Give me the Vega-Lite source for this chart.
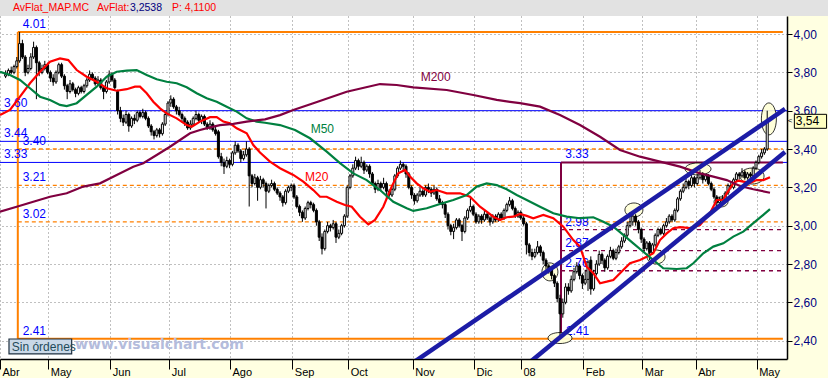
{
"$schema": "https://vega.github.io/schema/vega-lite/v6.json",
"width": 787, "height": 343,
"autosize": {"type": "none"},
"padding": {"left": 0, "top": 16, "right": 41, "bottom": 19},
"background": "#FFFFE1",
"config": {"view": {"fill": "white", "stroke": null}, "text": {"font": "Liberation Sans"}, "axis": {"labelFont": "Liberation Sans"}, "scale": {"continuousPadding": 0}},
"datasets": {
"bars": [
{"d":0,"o":3.78,"h":3.81,"l":3.77,"c":3.79},{"d":1,"o":3.79,"h":3.82,"l":3.78,"c":3.81},{"d":2,"o":3.81,"h":3.83,"l":3.79,"c":3.80},{"d":3,"o":3.80,"h":3.84,"l":3.79,"c":3.83},{"d":4,"o":3.83,"h":3.88,"l":3.82,"c":3.86},{"d":5,"o":3.86,"h":4.01,"l":3.85,"c":3.95},{"d":6,"o":3.95,"h":3.97,"l":3.87,"c":3.88},{"d":7,"o":3.88,"h":3.89,"l":3.78,"c":3.80},{"d":8,"o":3.80,"h":3.84,"l":3.79,"c":3.82},{"d":9,"o":3.82,"h":3.90,"l":3.81,"c":3.88},
{"d":10,"o":3.88,"h":3.96,"l":3.87,"c":3.93},{"d":11,"o":3.93,"h":3.94,"l":3.66,"c":3.85},{"d":12,"o":3.85,"h":3.86,"l":3.78,"c":3.80},{"d":13,"o":3.80,"h":3.84,"l":3.79,"c":3.82},{"d":14,"o":3.82,"h":3.86,"l":3.81,"c":3.84},{"d":15,"o":3.84,"h":3.85,"l":3.79,"c":3.80},{"d":16,"o":3.80,"h":3.81,"l":3.75,"c":3.77},{"d":17,"o":3.77,"h":3.79,"l":3.73,"c":3.75},{"d":18,"o":3.75,"h":3.81,"l":3.74,"c":3.80},{"d":19,"o":3.80,"h":3.85,"l":3.79,"c":3.84},
{"d":20,"o":3.84,"h":3.85,"l":3.77,"c":3.78},{"d":21,"o":3.78,"h":3.79,"l":3.71,"c":3.73},{"d":22,"o":3.73,"h":3.74,"l":3.66,"c":3.70},{"d":23,"o":3.70,"h":3.76,"l":3.69,"c":3.74},{"d":24,"o":3.74,"h":3.75,"l":3.70,"c":3.71},{"d":25,"o":3.71,"h":3.72,"l":3.67,"c":3.69},{"d":26,"o":3.69,"h":3.73,"l":3.68,"c":3.72},{"d":27,"o":3.72,"h":3.73,"l":3.69,"c":3.70},{"d":28,"o":3.70,"h":3.74,"l":3.69,"c":3.73},{"d":29,"o":3.73,"h":3.77,"l":3.72,"c":3.76},
{"d":30,"o":3.76,"h":3.81,"l":3.75,"c":3.79},{"d":31,"o":3.79,"h":3.80,"l":3.76,"c":3.77},{"d":32,"o":3.77,"h":3.78,"l":3.73,"c":3.74},{"d":33,"o":3.74,"h":3.78,"l":3.73,"c":3.76},{"d":34,"o":3.76,"h":3.77,"l":3.71,"c":3.72},{"d":35,"o":3.72,"h":3.73,"l":3.66,"c":3.70},{"d":36,"o":3.70,"h":3.76,"l":3.69,"c":3.75},{"d":37,"o":3.75,"h":3.81,"l":3.74,"c":3.79},{"d":38,"o":3.79,"h":3.80,"l":3.75,"c":3.76},{"d":39,"o":3.76,"h":3.77,"l":3.71,"c":3.72},
{"d":40,"o":3.70,"h":3.71,"l":3.58,"c":3.60},{"d":41,"o":3.60,"h":3.62,"l":3.54,"c":3.56},{"d":42,"o":3.56,"h":3.58,"l":3.52,"c":3.54},{"d":43,"o":3.54,"h":3.60,"l":3.53,"c":3.58},{"d":44,"o":3.58,"h":3.59,"l":3.49,"c":3.52},{"d":45,"o":3.52,"h":3.57,"l":3.51,"c":3.56},{"d":46,"o":3.56,"h":3.58,"l":3.53,"c":3.55},{"d":47,"o":3.55,"h":3.60,"l":3.54,"c":3.59},{"d":48,"o":3.59,"h":3.60,"l":3.56,"c":3.57},{"d":49,"o":3.57,"h":3.61,"l":3.56,"c":3.59},
{"d":50,"o":3.59,"h":3.60,"l":3.55,"c":3.56},{"d":51,"o":3.56,"h":3.57,"l":3.51,"c":3.52},{"d":52,"o":3.52,"h":3.53,"l":3.47,"c":3.49},{"d":53,"o":3.49,"h":3.50,"l":3.45,"c":3.47},{"d":54,"o":3.47,"h":3.51,"l":3.46,"c":3.50},{"d":55,"o":3.50,"h":3.51,"l":3.46,"c":3.48},{"d":56,"o":3.48,"h":3.54,"l":3.47,"c":3.53},{"d":57,"o":3.53,"h":3.59,"l":3.52,"c":3.58},{"d":58,"o":3.58,"h":3.65,"l":3.57,"c":3.64},{"d":59,"o":3.64,"h":3.68,"l":3.62,"c":3.66},
{"d":60,"o":3.66,"h":3.67,"l":3.61,"c":3.62},{"d":61,"o":3.62,"h":3.63,"l":3.58,"c":3.60},{"d":62,"o":3.60,"h":3.62,"l":3.57,"c":3.58},{"d":63,"o":3.58,"h":3.59,"l":3.54,"c":3.56},{"d":64,"o":3.56,"h":3.57,"l":3.52,"c":3.54},{"d":65,"o":3.54,"h":3.55,"l":3.50,"c":3.51},{"d":66,"o":3.51,"h":3.55,"l":3.50,"c":3.53},{"d":67,"o":3.53,"h":3.57,"l":3.52,"c":3.56},{"d":68,"o":3.56,"h":3.60,"l":3.55,"c":3.58},{"d":69,"o":3.58,"h":3.59,"l":3.54,"c":3.55},
{"d":70,"o":3.55,"h":3.58,"l":3.53,"c":3.57},{"d":71,"o":3.57,"h":3.58,"l":3.52,"c":3.53},{"d":72,"o":3.53,"h":3.54,"l":3.50,"c":3.51},{"d":73,"o":3.51,"h":3.55,"l":3.50,"c":3.53},{"d":74,"o":3.53,"h":3.54,"l":3.49,"c":3.50},{"d":75,"o":3.50,"h":3.52,"l":3.47,"c":3.48},{"d":76,"o":3.49,"h":3.50,"l":3.35,"c":3.36},{"d":77,"o":3.36,"h":3.38,"l":3.31,"c":3.33},{"d":78,"o":3.33,"h":3.35,"l":3.27,"c":3.31},{"d":79,"o":3.31,"h":3.36,"l":3.30,"c":3.34},
{"d":80,"o":3.34,"h":3.35,"l":3.30,"c":3.32},{"d":81,"o":3.32,"h":3.39,"l":3.31,"c":3.38},{"d":82,"o":3.38,"h":3.44,"l":3.37,"c":3.42},{"d":83,"o":3.42,"h":3.43,"l":3.38,"c":3.39},{"d":84,"o":3.39,"h":3.40,"l":3.33,"c":3.35},{"d":85,"o":3.35,"h":3.39,"l":3.34,"c":3.37},{"d":86,"o":3.37,"h":3.44,"l":3.36,"c":3.40},{"d":87,"o":3.40,"h":3.41,"l":3.10,"c":3.26},{"d":88,"o":3.26,"h":3.27,"l":3.20,"c":3.22},{"d":89,"o":3.22,"h":3.27,"l":3.21,"c":3.25},
{"d":90,"o":3.25,"h":3.26,"l":3.13,"c":3.20},{"d":91,"o":3.20,"h":3.26,"l":3.19,"c":3.24},{"d":92,"o":3.24,"h":3.25,"l":3.20,"c":3.22},{"d":93,"o":3.22,"h":3.23,"l":3.09,"c":3.18},{"d":94,"o":3.18,"h":3.22,"l":3.17,"c":3.21},{"d":95,"o":3.21,"h":3.24,"l":3.20,"c":3.22},{"d":96,"o":3.22,"h":3.23,"l":3.18,"c":3.19},{"d":97,"o":3.19,"h":3.20,"l":3.16,"c":3.17},{"d":98,"o":3.17,"h":3.18,"l":3.13,"c":3.15},{"d":99,"o":3.15,"h":3.16,"l":3.10,"c":3.12},
{"d":100,"o":3.12,"h":3.19,"l":3.11,"c":3.18},{"d":101,"o":3.18,"h":3.21,"l":3.17,"c":3.20},{"d":102,"o":3.20,"h":3.22,"l":3.18,"c":3.21},{"d":103,"o":3.21,"h":3.22,"l":3.14,"c":3.15},{"d":104,"o":3.15,"h":3.16,"l":3.09,"c":3.10},{"d":105,"o":3.10,"h":3.11,"l":3.05,"c":3.07},{"d":106,"o":3.07,"h":3.08,"l":3.02,"c":3.04},{"d":107,"o":3.04,"h":3.10,"l":3.03,"c":3.09},{"d":108,"o":3.09,"h":3.13,"l":3.08,"c":3.12},{"d":109,"o":3.12,"h":3.13,"l":3.09,"c":3.11},
{"d":110,"o":3.11,"h":3.12,"l":3.07,"c":3.08},{"d":111,"o":3.08,"h":3.09,"l":3.00,"c":3.02},{"d":112,"o":3.02,"h":3.03,"l":2.92,"c":2.94},{"d":113,"o":2.94,"h":2.96,"l":2.85,"c":2.88},{"d":114,"o":2.88,"h":2.98,"l":2.87,"c":2.97},{"d":115,"o":2.97,"h":3.02,"l":2.96,"c":3.00},{"d":116,"o":3.00,"h":3.01,"l":2.97,"c":2.99},{"d":117,"o":2.99,"h":3.03,"l":2.98,"c":3.01},{"d":118,"o":3.01,"h":3.02,"l":2.91,"c":2.94},{"d":119,"o":2.94,"h":2.98,"l":2.93,"c":2.96},
{"d":120,"o":2.96,"h":3.01,"l":2.95,"c":3.00},{"d":121,"o":3.00,"h":3.06,"l":2.99,"c":3.05},{"d":122,"o":3.05,"h":3.21,"l":3.04,"c":3.20},{"d":123,"o":3.20,"h":3.27,"l":3.19,"c":3.26},{"d":124,"o":3.26,"h":3.32,"l":3.25,"c":3.30},{"d":125,"o":3.30,"h":3.36,"l":3.29,"c":3.34},{"d":126,"o":3.34,"h":3.35,"l":3.29,"c":3.31},{"d":127,"o":3.31,"h":3.36,"l":3.30,"c":3.33},{"d":128,"o":3.33,"h":3.34,"l":3.27,"c":3.29},{"d":129,"o":3.29,"h":3.32,"l":3.28,"c":3.31},
{"d":130,"o":3.31,"h":3.32,"l":3.25,"c":3.27},{"d":131,"o":3.27,"h":3.28,"l":3.21,"c":3.22},{"d":132,"o":3.22,"h":3.23,"l":3.17,"c":3.19},{"d":133,"o":3.19,"h":3.24,"l":3.18,"c":3.22},{"d":134,"o":3.22,"h":3.23,"l":3.18,"c":3.20},{"d":135,"o":3.20,"h":3.25,"l":3.19,"c":3.22},{"d":136,"o":3.22,"h":3.23,"l":3.14,"c":3.18},{"d":137,"o":3.18,"h":3.19,"l":3.15,"c":3.16},{"d":138,"o":3.16,"h":3.20,"l":3.15,"c":3.19},{"d":139,"o":3.19,"h":3.27,"l":3.18,"c":3.26},
{"d":140,"o":3.26,"h":3.31,"l":3.25,"c":3.30},{"d":141,"o":3.30,"h":3.34,"l":3.29,"c":3.32},{"d":142,"o":3.32,"h":3.33,"l":3.28,"c":3.31},{"d":143,"o":3.31,"h":3.32,"l":3.25,"c":3.27},{"d":144,"o":3.27,"h":3.28,"l":3.19,"c":3.20},{"d":145,"o":3.20,"h":3.21,"l":3.14,"c":3.16},{"d":146,"o":3.16,"h":3.17,"l":3.11,"c":3.13},{"d":147,"o":3.13,"h":3.17,"l":3.12,"c":3.16},{"d":148,"o":3.16,"h":3.20,"l":3.15,"c":3.18},{"d":149,"o":3.18,"h":3.19,"l":3.15,"c":3.16},
{"d":150,"o":3.16,"h":3.21,"l":3.15,"c":3.20},{"d":151,"o":3.20,"h":3.22,"l":3.17,"c":3.19},{"d":152,"o":3.19,"h":3.20,"l":3.15,"c":3.17},{"d":153,"o":3.17,"h":3.21,"l":3.16,"c":3.19},{"d":154,"o":3.19,"h":3.20,"l":3.13,"c":3.14},{"d":155,"o":3.14,"h":3.16,"l":3.11,"c":3.12},{"d":156,"o":3.12,"h":3.13,"l":3.09,"c":3.11},{"d":157,"o":3.11,"h":3.12,"l":3.04,"c":3.06},{"d":158,"o":3.06,"h":3.07,"l":2.98,"c":3.00},{"d":159,"o":3.00,"h":3.01,"l":2.95,"c":2.97},
{"d":160,"o":2.97,"h":3.01,"l":2.93,"c":2.99},{"d":161,"o":2.99,"h":3.04,"l":2.98,"c":3.03},{"d":162,"o":3.03,"h":3.04,"l":2.99,"c":3.00},{"d":163,"o":3.00,"h":3.01,"l":2.92,"c":2.97},{"d":164,"o":2.97,"h":3.05,"l":2.96,"c":3.04},{"d":165,"o":3.04,"h":3.09,"l":3.03,"c":3.08},{"d":166,"o":3.08,"h":3.15,"l":3.07,"c":3.10},{"d":167,"o":3.10,"h":3.11,"l":3.05,"c":3.06},{"d":168,"o":3.06,"h":3.07,"l":3.01,"c":3.02},{"d":169,"o":3.02,"h":3.06,"l":3.01,"c":3.05},
{"d":170,"o":3.05,"h":3.06,"l":3.01,"c":3.03},{"d":171,"o":3.03,"h":3.08,"l":3.02,"c":3.06},{"d":172,"o":3.06,"h":3.07,"l":3.03,"c":3.04},{"d":173,"o":3.04,"h":3.05,"l":3.00,"c":3.02},{"d":174,"o":3.02,"h":3.06,"l":3.01,"c":3.05},{"d":175,"o":3.05,"h":3.06,"l":3.02,"c":3.03},{"d":176,"o":3.03,"h":3.07,"l":3.02,"c":3.06},{"d":177,"o":3.06,"h":3.07,"l":3.03,"c":3.04},{"d":178,"o":3.04,"h":3.09,"l":3.03,"c":3.08},{"d":179,"o":3.08,"h":3.12,"l":3.07,"c":3.11},
{"d":180,"o":3.11,"h":3.15,"l":3.10,"c":3.13},{"d":181,"o":3.13,"h":3.14,"l":3.08,"c":3.09},{"d":182,"o":3.09,"h":3.10,"l":3.04,"c":3.05},{"d":183,"o":3.05,"h":3.08,"l":3.04,"c":3.07},{"d":184,"o":3.07,"h":3.08,"l":3.03,"c":3.04},{"d":185,"o":3.04,"h":3.05,"l":3.00,"c":3.01},{"d":186,"o":3.01,"h":3.02,"l":2.85,"c":2.90},{"d":187,"o":2.90,"h":2.91,"l":2.84,"c":2.86},{"d":188,"o":2.86,"h":2.88,"l":2.82,"c":2.84},{"d":189,"o":2.84,"h":2.88,"l":2.83,"c":2.86},
{"d":190,"o":2.86,"h":2.92,"l":2.85,"c":2.89},{"d":191,"o":2.89,"h":2.90,"l":2.84,"c":2.86},{"d":192,"o":2.86,"h":2.87,"l":2.80,"c":2.82},{"d":193,"o":2.82,"h":2.83,"l":2.77,"c":2.79},{"d":194,"o":2.79,"h":2.80,"l":2.75,"c":2.77},{"d":195,"o":2.77,"h":2.78,"l":2.72,"c":2.74},{"d":196,"o":2.74,"h":2.75,"l":2.68,"c":2.70},{"d":197,"o":2.70,"h":2.71,"l":2.60,"c":2.62},{"d":198,"o":2.62,"h":2.64,"l":2.41,"c":2.54},{"d":199,"o":2.54,"h":2.62,"l":2.52,"c":2.60},
{"d":200,"o":2.60,"h":2.70,"l":2.59,"c":2.68},{"d":201,"o":2.68,"h":2.70,"l":2.64,"c":2.66},{"d":202,"o":2.66,"h":2.74,"l":2.65,"c":2.72},{"d":203,"o":2.72,"h":2.78,"l":2.71,"c":2.76},{"d":204,"o":2.76,"h":2.81,"l":2.75,"c":2.79},{"d":205,"o":2.79,"h":2.80,"l":2.72,"c":2.74},{"d":206,"o":2.74,"h":2.75,"l":2.67,"c":2.70},{"d":207,"o":2.70,"h":2.77,"l":2.69,"c":2.72},{"d":208,"o":2.72,"h":2.82,"l":2.66,"c":2.81},{"d":209,"o":2.82,"h":2.84,"l":2.64,"c":2.67},
{"d":210,"o":2.67,"h":2.77,"l":2.66,"c":2.75},{"d":211,"o":2.75,"h":2.82,"l":2.74,"c":2.80},{"d":212,"o":2.80,"h":2.87,"l":2.79,"c":2.85},{"d":213,"o":2.85,"h":2.86,"l":2.80,"c":2.82},{"d":214,"o":2.82,"h":2.83,"l":2.76,"c":2.78},{"d":215,"o":2.78,"h":2.85,"l":2.77,"c":2.84},{"d":216,"o":2.84,"h":2.89,"l":2.83,"c":2.87},{"d":217,"o":2.87,"h":2.88,"l":2.82,"c":2.83},{"d":218,"o":2.83,"h":2.88,"l":2.82,"c":2.86},{"d":219,"o":2.86,"h":2.90,"l":2.85,"c":2.89},
{"d":220,"o":2.89,"h":2.94,"l":2.88,"c":2.92},{"d":221,"o":2.92,"h":2.96,"l":2.91,"c":2.95},{"d":222,"o":2.95,"h":3.02,"l":2.94,"c":3.00},{"d":223,"o":3.00,"h":3.07,"l":2.99,"c":3.02},{"d":224,"o":3.02,"h":3.06,"l":3.00,"c":3.05},{"d":225,"o":3.05,"h":3.06,"l":3.00,"c":3.02},{"d":226,"o":3.02,"h":3.03,"l":2.96,"c":2.98},{"d":227,"o":2.98,"h":2.99,"l":2.91,"c":2.93},{"d":228,"o":2.93,"h":2.94,"l":2.86,"c":2.88},{"d":229,"o":2.88,"h":2.92,"l":2.87,"c":2.91},
{"d":230,"o":2.91,"h":2.92,"l":2.82,"c":2.86},{"d":231,"o":2.86,"h":2.91,"l":2.85,"c":2.90},{"d":232,"o":2.90,"h":2.96,"l":2.89,"c":2.95},{"d":233,"o":2.95,"h":2.99,"l":2.94,"c":2.98},{"d":234,"o":2.98,"h":2.99,"l":2.95,"c":2.96},{"d":235,"o":2.96,"h":3.01,"l":2.95,"c":3.00},{"d":236,"o":3.00,"h":3.04,"l":2.99,"c":3.02},{"d":237,"o":3.02,"h":3.06,"l":3.01,"c":3.05},{"d":238,"o":3.05,"h":3.06,"l":3.02,"c":3.03},{"d":239,"o":3.03,"h":3.09,"l":3.02,"c":3.08},
{"d":240,"o":3.08,"h":3.15,"l":3.07,"c":3.14},{"d":241,"o":3.14,"h":3.19,"l":3.13,"c":3.18},{"d":242,"o":3.18,"h":3.22,"l":3.17,"c":3.20},{"d":243,"o":3.20,"h":3.25,"l":3.19,"c":3.23},{"d":244,"o":3.23,"h":3.24,"l":3.19,"c":3.21},{"d":245,"o":3.21,"h":3.29,"l":3.20,"c":3.25},{"d":246,"o":3.25,"h":3.26,"l":3.20,"c":3.22},{"d":247,"o":3.22,"h":3.27,"l":3.21,"c":3.25},{"d":248,"o":3.25,"h":3.29,"l":3.24,"c":3.27},{"d":249,"o":3.27,"h":3.28,"l":3.22,"c":3.24},
{"d":250,"o":3.24,"h":3.27,"l":3.23,"c":3.26},{"d":251,"o":3.26,"h":3.27,"l":3.21,"c":3.22},{"d":252,"o":3.22,"h":3.23,"l":3.18,"c":3.19},{"d":253,"o":3.19,"h":3.20,"l":3.14,"c":3.15},{"d":254,"o":3.15,"h":3.16,"l":3.10,"c":3.12},{"d":255,"o":3.12,"h":3.15,"l":3.11,"c":3.14},{"d":256,"o":3.14,"h":3.16,"l":3.12,"c":3.13},{"d":257,"o":3.13,"h":3.18,"l":3.12,"c":3.17},{"d":258,"o":3.17,"h":3.22,"l":3.16,"c":3.21},{"d":259,"o":3.21,"h":3.23,"l":3.19,"c":3.20},
{"d":260,"o":3.20,"h":3.25,"l":3.19,"c":3.24},{"d":261,"o":3.24,"h":3.28,"l":3.23,"c":3.27},{"d":262,"o":3.27,"h":3.28,"l":3.24,"c":3.26},{"d":263,"o":3.26,"h":3.30,"l":3.25,"c":3.28},{"d":264,"o":3.28,"h":3.29,"l":3.24,"c":3.25},{"d":265,"o":3.25,"h":3.28,"l":3.24,"c":3.27},{"d":266,"o":3.27,"h":3.28,"l":3.25,"c":3.26},{"d":267,"o":3.26,"h":3.31,"l":3.25,"c":3.30},{"d":268,"o":3.30,"h":3.34,"l":3.29,"c":3.33},{"d":269,"o":3.33,"h":3.37,"l":3.32,"c":3.36},
{"d":270,"o":3.36,"h":3.40,"l":3.35,"c":3.38},{"d":271,"o":3.38,"h":3.41,"l":3.37,"c":3.40},{"d":272,"o":3.40,"h":3.60,"l":3.39,"c":3.54}
],
"ma": [
{"s":"M20","d":-2,"p":3.577},{"s":"M20","d":1.57,"p":3.604},{"s":"M20","d":5.14,"p":3.673},{"s":"M20","d":8.71,"p":3.743},{"s":"M20","d":12.29,"p":3.803},{"s":"M20","d":15.86,"p":3.856},{"s":"M20","d":19.43,"p":3.873},{"s":"M20","d":22.39,"p":3.864},{"s":"M20","d":25.39,"p":3.812},{"s":"M20","d":28.96,"p":3.777},{"s":"M20","d":32.54,"p":3.751},{"s":"M20","d":36.11,"p":3.717},{"s":"M20","d":39.68,"p":3.704},{"s":"M20","d":43.25,"p":3.712},{"s":"M20","d":46.21,"p":3.725},{"s":"M20","d":48,"p":3.725},{"s":"M20","d":50.39,"p":3.691},{"s":"M20","d":52.75,"p":3.647},{"s":"M20","d":55.14,"p":3.612},{"s":"M20","d":57.54,"p":3.586},{"s":"M20","d":61.11,"p":3.56},{"s":"M20","d":64.68,"p":3.525},{"s":"M20","d":66.46,"p":3.516},{"s":"M20","d":69.43,"p":3.543},{"s":"M20","d":73,"p":3.566},{"s":"M20","d":75.39,"p":3.566},{"s":"M20","d":77.75,"p":3.543},{"s":"M20","d":80.14,"p":3.534},{"s":"M20","d":82.54,"p":3.508},{"s":"M20","d":86.11,"p":3.482},{"s":"M20","d":88.46,"p":3.421},{"s":"M20","d":90.86,"p":3.382},{"s":"M20","d":94.43,"p":3.334},{"s":"M20","d":98,"p":3.3},{"s":"M20","d":102.75,"p":3.265},{"s":"M20","d":106.32,"p":3.23},{"s":"M20","d":109.89,"p":3.186},{"s":"M20","d":112.29,"p":3.151},{"s":"M20","d":114.68,"p":3.151},{"s":"M20","d":118.25,"p":3.125},{"s":"M20","d":121.21,"p":3.108},{"s":"M20","d":123.61,"p":3.099},{"s":"M20","d":126.57,"p":3.047},{"s":"M20","d":129.54,"p":3.007},{"s":"M20","d":131.93,"p":3.03},{"s":"M20","d":134.89,"p":3.099},{"s":"M20","d":137.89,"p":3.204},{"s":"M20","d":140.25,"p":3.273},{"s":"M20","d":142.64,"p":3.291},{"s":"M20","d":144.43,"p":3.256},{"s":"M20","d":146.82,"p":3.221},{"s":"M20","d":149.18,"p":3.195},{"s":"M20","d":151.57,"p":3.177},{"s":"M20","d":153.96,"p":3.186},{"s":"M20","d":157.54,"p":3.169},{"s":"M20","d":162.29,"p":3.169},{"s":"M20","d":165.86,"p":3.151},{"s":"M20","d":169.43,"p":3.099},{"s":"M20","d":171.82,"p":3.073},{"s":"M20","d":174.18,"p":3.047},{"s":"M20","d":176.57,"p":3.03},{"s":"M20","d":178.96,"p":3.044},{"s":"M20","d":181.32,"p":3.047},{"s":"M20","d":183.71,"p":3.061},{"s":"M20","d":186.11,"p":3.051},{"s":"M20","d":188.46,"p":3.039},{"s":"M20","d":192.04,"p":3.056},{"s":"M20","d":195.61,"p":3.039},{"s":"M20","d":199.18,"p":2.995},{"s":"M20","d":202.75,"p":2.925},{"s":"M20","d":205.14,"p":2.891},{"s":"M20","d":207.54,"p":2.786},{"s":"M20","d":209.89,"p":2.752},{"s":"M20","d":212.29,"p":2.7},{"s":"M20","d":214.68,"p":2.708},{"s":"M20","d":217.04,"p":2.717},{"s":"M20","d":219.43,"p":2.752},{"s":"M20","d":223,"p":2.804},{"s":"M20","d":226.57,"p":2.821},{"s":"M20","d":228.96,"p":2.838},{"s":"M20","d":231.32,"p":2.856},{"s":"M20","d":233.71,"p":2.925},{"s":"M20","d":236.11,"p":2.96},{"s":"M20","d":238.46,"p":2.987},{"s":"M20","d":240.86,"p":2.992},{"s":"M20","d":244.43,"p":2.987},{"s":"M20","d":248,"p":3.004},{"s":"M20","d":251.57,"p":3.065},{"s":"M20","d":253.96,"p":3.134},{"s":"M20","d":256.32,"p":3.134},{"s":"M20","d":257.54,"p":3.169},{"s":"M20","d":259.89,"p":3.221},{"s":"M20","d":261.68,"p":3.235},{"s":"M20","d":263.46,"p":3.23},{"s":"M20","d":265.86,"p":3.224},{"s":"M20","d":268.25,"p":3.238},{"s":"M20","d":270.61,"p":3.238},{"s":"M20","d":273,"p":3.253},
{"s":"M50","d":-2,"p":3.803},{"s":"M50","d":1.57,"p":3.786},{"s":"M50","d":5.14,"p":3.76},{"s":"M50","d":8.71,"p":3.717},{"s":"M50","d":12.29,"p":3.673},{"s":"M50","d":15.86,"p":3.656},{"s":"M50","d":19.43,"p":3.63},{"s":"M50","d":21.82,"p":3.624},{"s":"M50","d":25.39,"p":3.639},{"s":"M50","d":28.96,"p":3.682},{"s":"M50","d":32.54,"p":3.725},{"s":"M50","d":36.11,"p":3.777},{"s":"M50","d":39.68,"p":3.803},{"s":"M50","d":43.25,"p":3.809},{"s":"M50","d":46.82,"p":3.812},{"s":"M50","d":50.39,"p":3.786},{"s":"M50","d":53.96,"p":3.764},{"s":"M50","d":57.54,"p":3.751},{"s":"M50","d":61.11,"p":3.743},{"s":"M50","d":64.68,"p":3.722},{"s":"M50","d":68.25,"p":3.691},{"s":"M50","d":71.82,"p":3.665},{"s":"M50","d":75.39,"p":3.647},{"s":"M50","d":78.96,"p":3.621},{"s":"M50","d":82.54,"p":3.595},{"s":"M50","d":86.11,"p":3.56},{"s":"M50","d":89.68,"p":3.543},{"s":"M50","d":92.64,"p":3.537},{"s":"M50","d":98,"p":3.525},{"s":"M50","d":103.36,"p":3.499},{"s":"M50","d":108.71,"p":3.456},{"s":"M50","d":114.68,"p":3.386},{"s":"M50","d":119.43,"p":3.326},{"s":"M50","d":124.18,"p":3.273},{"s":"M50","d":128.96,"p":3.238},{"s":"M50","d":133.71,"p":3.186},{"s":"M50","d":138.46,"p":3.125},{"s":"M50","d":143.25,"p":3.091},{"s":"M50","d":145.61,"p":3.077},{"s":"M50","d":150.39,"p":3.091},{"s":"M50","d":155.14,"p":3.113},{"s":"M50","d":159.89,"p":3.134},{"s":"M50","d":164.68,"p":3.16},{"s":"M50","d":168.25,"p":3.204},{"s":"M50","d":171.82,"p":3.221},{"s":"M50","d":175.39,"p":3.212},{"s":"M50","d":178.96,"p":3.19},{"s":"M50","d":182.54,"p":3.16},{"s":"M50","d":186.11,"p":3.134},{"s":"M50","d":190.86,"p":3.099},{"s":"M50","d":195.61,"p":3.065},{"s":"M50","d":200.39,"p":3.047},{"s":"M50","d":205.14,"p":3.039},{"s":"M50","d":209.89,"p":3.044},{"s":"M50","d":213.46,"p":3.021},{"s":"M50","d":217.04,"p":2.995},{"s":"M50","d":220.61,"p":2.952},{"s":"M50","d":224.18,"p":2.908},{"s":"M50","d":227.75,"p":2.864},{"s":"M50","d":231.32,"p":2.821},{"s":"M50","d":234.89,"p":2.778},{"s":"M50","d":239.68,"p":2.774},{"s":"M50","d":243.25,"p":2.778},{"s":"M50","d":245.61,"p":2.804},{"s":"M50","d":249.18,"p":2.856},{"s":"M50","d":252.75,"p":2.891},{"s":"M50","d":256.32,"p":2.908},{"s":"M50","d":259.89,"p":2.943},{"s":"M50","d":263.46,"p":2.969},{"s":"M50","d":267.04,"p":3.013},{"s":"M50","d":270.61,"p":3.056},{"s":"M50","d":273,"p":3.086},
{"s":"M200","d":-2,"p":3.073},{"s":"M200","d":3.96,"p":3.099},{"s":"M200","d":9.89,"p":3.125},{"s":"M200","d":15.86,"p":3.151},{"s":"M200","d":21.82,"p":3.169},{"s":"M200","d":27.75,"p":3.204},{"s":"M200","d":33.71,"p":3.221},{"s":"M200","d":39.68,"p":3.265},{"s":"M200","d":45.61,"p":3.308},{"s":"M200","d":49.18,"p":3.326},{"s":"M200","d":53.96,"p":3.369},{"s":"M200","d":58.71,"p":3.412},{"s":"M200","d":62.29,"p":3.447},{"s":"M200","d":65.86,"p":3.482},{"s":"M200","d":69.43,"p":3.499},{"s":"M200","d":73,"p":3.513},{"s":"M200","d":76.57,"p":3.525},{"s":"M200","d":81.32,"p":3.531},{"s":"M200","d":86.11,"p":3.543},{"s":"M200","d":92.64,"p":3.555},{"s":"M200","d":98,"p":3.577},{"s":"M200","d":102.75,"p":3.604},{"s":"M200","d":109.89,"p":3.639},{"s":"M200","d":121.82,"p":3.699},{"s":"M200","d":133.71,"p":3.739},{"s":"M200","d":139.68,"p":3.734},{"s":"M200","d":145.61,"p":3.722},{"s":"M200","d":157.54,"p":3.708},{"s":"M200","d":167.04,"p":3.682},{"s":"M200","d":175.39,"p":3.656},{"s":"M200","d":183.71,"p":3.639},{"s":"M200","d":190.86,"p":3.621},{"s":"M200","d":198,"p":3.577},{"s":"M200","d":205.14,"p":3.525},{"s":"M200","d":212.29,"p":3.464},{"s":"M200","d":219.43,"p":3.395},{"s":"M200","d":226.57,"p":3.36},{"s":"M200","d":233.71,"p":3.334},{"s":"M200","d":240.86,"p":3.308},{"s":"M200","d":248,"p":3.273},{"s":"M200","d":252.75,"p":3.256},{"s":"M200","d":257.54,"p":3.238},{"s":"M200","d":262.29,"p":3.207},{"s":"M200","d":267.04,"p":3.19},{"s":"M200","d":273,"p":3.172}
]
},
"encoding": {
"x": {"field": "d", "type": "quantitative", "scale": {"domain": [-2, 279.07], "nice": false, "zero": false, "padding": 0},
 "axis": {"title": null, "orient": "bottom", "values": [-2, 15.25, 37.39, 58.46, 80.14, 102.39, 122.39, 145.39, 167.29, 184.07, 206.32, 227.39, 246.46, 268.25],
  "labelExpr": "datum.value < 0 ? 'Abr' : datum.value < 20 ? 'May' : datum.value < 40 ? 'Jun' : datum.value < 60 ? 'Jul' : datum.value < 85 ? 'Ago' : datum.value < 110 ? 'Sep' : datum.value < 130 ? 'Oct' : datum.value < 150 ? 'Nov' : datum.value < 175 ? 'Dic' : datum.value < 190 ? '08' : datum.value < 210 ? 'Feb' : datum.value < 235 ? 'Mar' : datum.value < 255 ? 'Abr' : 'May'",
  "labelAlign": "left", "labelBaseline": "alphabetic", "labelPadding": 6, "labelOffset": 2, "labelFontSize": 11, "labelColor": "#000000", "labelOverlap": false, "labelFlush": false,
  "tickSize": 10, "tickColor": "#000000", "domainColor": "#000000", "domainWidth": 1.5,
  "grid": true, "gridColor": "#808080", "gridDash": [1, 3], "gridWidth": 1}},
"y": {"field": "p", "type": "quantitative", "scale": {"domain": [2.3046, 4.0939], "nice": false, "zero": false, "padding": 0},
 "axis": {"title": null, "orient": "right", "values": [2.4, 2.6, 2.8, 3.0, 3.2, 3.4, 3.6, 3.8, 4.0],
  "labelExpr": "replace(format(datum.value, '.2f'), '.', ',')", "labelColor": "#000080", "labelFontSize": 12, "labelPadding": 1, "labelOverlap": false, "labelFlush": false,
  "tickSize": 5, "tickColor": "#000000", "domainColor": "#000000", "domainWidth": 1.5,
  "grid": true, "gridColor": "#808080", "gridDash": [1, 3], "gridWidth": 1}}
},
"layer": [
{"data": {"values": [{"d": -2, "d2": 294, "p": 4.0939, "p2": 4.18}]},
 "mark": {"type": "rect", "color": "#E2E2E2"},
 "encoding": {"x2": {"field": "d2"}, "y2": {"field": "p2"}}},
{"data": {"values": [{"d": -2, "d2": 279.07, "p": 3.60}, {"d": -2, "d2": 279.07, "p": 3.44}, {"d": -2, "d2": 279.07, "p": 3.33}]},
 "mark": {"type": "rule", "color": "#0000FF", "strokeWidth": 1},
 "encoding": {"x2": {"field": "d2"}}},
{"data": {"values": [{"d": 4.36, "d2": 277.6, "p": 3.40}, {"d": 4.36, "d2": 277.6, "p": 3.21}, {"d": 4.36, "d2": 277.6, "p": 3.02}]},
 "mark": {"type": "rule", "color": "#FF8000", "strokeWidth": 1.3, "strokeDash": [4, 3]},
 "encoding": {"x2": {"field": "d2"}}},
{"data": {"values": [{"d": 198.36, "d2": 277.6, "p": 2.98}, {"d": 198.36, "d2": 277.6, "p": 2.87}, {"d": 198.36, "d2": 277.6, "p": 2.765}]},
 "mark": {"type": "rule", "color": "#800040", "strokeWidth": 1.3, "strokeDash": [4, 4]},
 "encoding": {"x2": {"field": "d2"}}},
{"data": {"values": [{"d": 4.36, "d2": 277.6, "p": 4.01}, {"d": 4.36, "d2": 277.6, "p": 2.41}]},
 "mark": {"type": "rule", "color": "#FF8000", "strokeWidth": 2},
 "encoding": {"x2": {"field": "d2"}}},
{"data": {"values": [{"d": 4.36, "p": 2.41, "p2": 4.01}]},
 "mark": {"type": "rule", "color": "#FF8000", "strokeWidth": 2},
 "encoding": {"y2": {"field": "p2"}}},
{"data": {"values": [{"d": 198.36, "d2": 277.6, "p": 3.33}]},
 "mark": {"type": "rule", "color": "#800040", "strokeWidth": 2},
 "encoding": {"x2": {"field": "d2"}}},
{"data": {"values": [{"d": 198.36, "p": 2.41, "p2": 3.33}]},
 "mark": {"type": "rule", "color": "#800040", "strokeWidth": 2},
 "encoding": {"y2": {"field": "p2"}}},
{"data": {"values": [
 {"t": "4.01", "d": 6.1, "p": 4.01}, {"t": "3.60", "d": -0.57, "p": 3.60}, {"t": "3.44", "d": -0.57, "p": 3.44}, {"t": "3.40", "d": 6.1, "p": 3.40},
 {"t": "3.33", "d": -0.57, "p": 3.33}, {"t": "3.21", "d": 6.1, "p": 3.21}, {"t": "3.02", "d": 6.1, "p": 3.02}, {"t": "2.41", "d": 6.1, "p": 2.41},
 {"t": "3.33", "d": 199.9, "p": 3.33}, {"t": "2.98", "d": 199.9, "p": 2.98}, {"t": "2.87", "d": 199.9, "p": 2.87}, {"t": "2.76", "d": 199.9, "p": 2.765}, {"t": "2.41", "d": 200.1, "p": 2.41}]},
 "mark": {"type": "text", "color": "#0000FF", "fontSize": 12, "align": "left", "baseline": "alphabetic", "dy": -4},
 "encoding": {"text": {"field": "t"}}},
{"data": {"values": [
 {"k": "w", "d": 198, "p": 2.414}, {"k": "r", "d": 194.4, "p": 2.759}, {"k": "m", "d": 224.4, "p": 3.082}, {"k": "m", "d": 232.3, "p": 2.837},
 {"k": "e", "d": 247.3, "p": 3.296}, {"k": "s", "d": 255.5, "p": 3.124}, {"k": "e2", "d": 266.6, "p": 3.259}, {"k": "t", "d": 272.6, "p": 3.557}]},
 "mark": {"type": "point", "filled": true, "size": 4, "fill": "#FFFFD6", "fillOpacity": 0.9, "stroke": "#000000", "strokeWidth": 0.8, "strokeOpacity": 1},
 "encoding": {"shape": {"field": "k", "type": "nominal", "legend": null, "scale": {"domain": ["w", "r", "m", "e", "s", "e2", "t"],
  "range": ["M-12,0A12,5.5,0,1,0,12,0A12,5.5,0,1,0,-12,0Z", "M-8,0A8,9,0,1,0,8,0A8,9,0,1,0,-8,0Z", "M-9,0A9,7,0,1,0,9,0A9,7,0,1,0,-9,0Z", "M-13,0A13,6,0,1,0,13,0A13,6,0,1,0,-13,0Z", "M-7,0A7,5,0,1,0,7,0A7,5,0,1,0,-7,0Z", "M-12,0A12,8,0,1,0,12,0A12,8,0,1,0,-12,0Z", "M-7.5,0A7.5,16,0,1,0,7.5,0A7.5,16,0,1,0,-7.5,0Z"]}}}},
{"data": {"name": "bars"},
 "mark": {"type": "rule", "color": "#000000", "strokeWidth": 1},
 "encoding": {"y": {"field": "l", "type": "quantitative", "scale": {"domain": [2.3046, 4.0939], "nice": false, "zero": false, "padding": 0}}, "y2": {"field": "h"}}},
{"data": {"name": "bars"},
 "mark": {"type": "bar", "width": 2, "stroke": "#000000", "strokeWidth": 1},
 "encoding": {"y": {"field": "o", "type": "quantitative", "scale": {"domain": [2.3046, 4.0939], "nice": false, "zero": false, "padding": 0}}, "y2": {"field": "c"},
  "fill": {"condition": {"test": "datum.c < datum.o", "value": "#000000"}, "value": "#FFFFFF"}}},
{"data": {"name": "ma"},
 "mark": {"type": "line", "strokeWidth": 2.2, "clip": true},
 "encoding": {"color": {"field": "s", "type": "nominal", "legend": null, "scale": {"domain": ["M20", "M50", "M200"], "range": ["#FF0000", "#008040", "#800040"]}}}},
{"data": {"values": [{"id": "A", "d": 140, "p": 2.2303}, {"id": "A", "d": 278.36, "p": 3.609}, {"id": "B", "d": 185, "p": 2.261}, {"id": "B", "d": 278.36, "p": 3.385}]},
 "mark": {"type": "line", "color": "#1C1CA6", "strokeWidth": 4.5, "clip": true},
 "encoding": {"detail": {"field": "id"}}},
{"data": {"values": [{"s": "M200", "d": 148.25, "p": 3.755}, {"s": "M50", "d": 108.96, "p": 3.485}, {"s": "M20", "d": 106.93, "p": 3.233}]},
 "mark": {"type": "text", "fontSize": 12, "align": "left", "baseline": "alphabetic"},
 "encoding": {"text": {"field": "s"}, "color": {"field": "s", "type": "nominal", "legend": null}}},
{"data": {"values": [{"d": 1.21, "d2": 23.6, "p": 2.409, "p2": 2.331}]},
 "mark": {"type": "rect", "fill": "#C9D8E8", "stroke": "#1F3040", "strokeWidth": 1.2},
 "encoding": {"x2": {"field": "d2"}, "y2": {"field": "p2"}}},
{"data": {"values": [{"t": "Sin órdenes", "d": 2.2, "p": 2.3465}]},
 "mark": {"type": "text", "color": "#1F4A5A", "fontSize": 12, "align": "left", "baseline": "alphabetic"},
 "encoding": {"text": {"field": "t"}}},
{"data": {"values": [{"t": "www.visualchart.com", "d": 24.8, "p": 2.357}]},
 "mark": {"type": "text", "color": "#B4BCDC", "fontSize": 14, "font": "DejaVu Sans", "fontWeight": "bold", "align": "left", "baseline": "alphabetic"},
 "encoding": {"text": {"field": "t"}}},
{"data": {"values": [{"t": "AvFlat_MAP.MC", "d": 2.64, "p": 4.1215}, {"t": "AvFlat:", "d": 32.6, "p": 4.1215}, {"t": "P: 4,1100", "d": 59.4, "p": 4.1215}]},
 "mark": {"type": "text", "color": "#FF0000", "fontSize": 10.5, "align": "left", "baseline": "alphabetic"},
 "encoding": {"text": {"field": "t"}}},
{"data": {"values": [{"t": "3,2538", "d": 44.4, "p": 4.1215}]},
 "mark": {"type": "text", "color": "#000080", "fontSize": 10.5, "align": "left", "baseline": "alphabetic"},
 "encoding": {"text": {"field": "t"}}},
{"data": {"values": [{"d": 281.7, "d2": 293.2, "p": 3.581, "p2": 3.508}]},
 "mark": {"type": "rect", "fill": "#FFFFC0", "stroke": "#000000", "strokeWidth": 1},
 "encoding": {"x2": {"field": "d2"}, "y2": {"field": "p2"}}},
{"data": {"values": [{"t": "3,54", "d": 286.4, "p": 3.546}]},
 "mark": {"type": "text", "color": "#000000", "fontSize": 12, "align": "center", "baseline": "middle"},
 "encoding": {"text": {"field": "t"}}},
{"data": {"values": [{"t": "<", "d": 280.2, "p": 3.544}]},
 "mark": {"type": "text", "color": "#000000", "fontSize": 8, "align": "center", "baseline": "middle"},
 "encoding": {"text": {"field": "t"}}}
]
}
